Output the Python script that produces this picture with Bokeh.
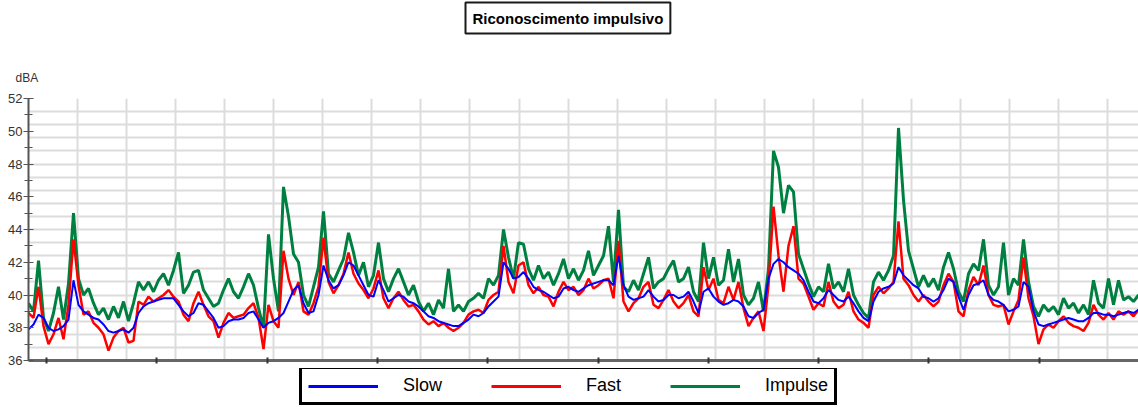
from bokeh.plotting import figure
from bokeh.layouts import column
from bokeh.models import (Range1d, FixedTicker, Title, Legend, LegendItem,
                          CustomJSTickFormatter)
from bokeh.embed import file_html
from bokeh.resources import INLINE

# ---- data (dBA), one sample per time step ----
impulse = [
    39.5, 39.0, 42.1, 38.6, 37.8, 38.9, 40.5, 38.5, 40.7, 45.0, 41.0, 40.0, 40.4, 39.5, 38.8,
    39.2, 38.5, 39.3, 38.6, 39.6, 38.4, 39.5, 40.8, 40.3, 40.8, 40.2, 40.9, 41.3, 40.6, 41.5,
    42.6, 40.1, 40.6, 41.4, 41.5, 40.3, 39.8, 39.3, 39.5, 40.3, 41.0, 40.2, 39.8, 40.5, 41.3,
    40.6, 39.2, 38.0, 43.7, 41.0, 39.0, 46.6, 44.8, 42.5, 42.0, 40.0, 39.3, 40.5, 41.7, 45.1,
    41.3, 40.8, 41.5, 42.2, 43.8, 42.6, 41.2, 42.0, 40.5, 41.2, 43.2, 41.0, 40.2, 41.0, 41.6,
    40.8, 40.0, 40.6, 39.6, 39.0, 39.5, 38.8, 39.7, 39.2, 41.6, 39.0, 39.4, 39.0, 39.6, 39.8,
    40.1, 39.8, 41.0, 40.6, 41.2, 44.0, 42.3, 41.0, 43.2, 43.1, 41.6, 40.9, 41.8, 41.0, 41.4,
    40.6, 41.3, 42.2, 41.0, 41.6, 40.9, 41.5, 42.7, 41.2, 41.8, 42.4, 44.2, 40.8, 45.2, 40.5,
    40.2, 40.9, 40.3, 41.3, 42.3, 40.4, 40.8, 41.0, 41.6, 42.1, 40.8, 41.0, 41.7, 40.2, 39.6,
    43.2, 41.0, 42.3, 40.6, 40.9, 42.8, 40.8, 42.2, 40.0, 39.4, 39.8, 40.8, 39.0, 41.6, 48.8,
    47.8, 45.0, 46.7, 46.3, 42.5, 41.6, 40.7, 39.9, 40.5, 40.2, 41.9, 40.4, 40.8, 40.2, 41.6,
    40.0, 39.4, 38.9, 38.6, 40.8, 41.4, 40.9, 41.5, 42.4, 50.2, 45.8, 42.7, 41.6, 40.5,
    41.2, 40.5, 41.0, 40.3, 41.7, 42.6, 41.6, 40.2, 39.6, 41.3, 41.9, 41.5, 43.4, 40.6, 40.0,
    40.5, 43.2, 40.0, 41.0, 40.6, 43.4, 40.8, 39.3, 38.7, 39.4, 39.0, 39.3, 38.8, 39.8, 39.2,
    39.5, 38.9, 39.4, 38.8, 40.9, 39.5, 39.2, 41.0, 39.4, 40.9, 39.7, 39.9, 39.6, 40.0,
]
fast = [
    38.9, 38.6, 40.5, 38.1, 37.0, 37.6, 38.6, 37.3, 39.4, 43.4, 40.6, 38.8, 39.0, 38.3, 38.0,
    37.6, 36.6, 37.4, 37.8, 38.0, 37.1, 37.2, 39.6, 39.4, 39.9, 39.6, 39.8, 40.0, 40.3, 39.9,
    39.6, 38.8, 38.4, 39.5, 40.2, 39.4, 38.7, 38.4, 37.4, 38.3, 38.9, 38.6, 38.7, 38.8, 39.2,
    39.5, 38.6, 36.7, 39.4, 38.4, 38.0, 42.7, 41.0, 40.0, 40.8, 39.0, 38.8, 39.5, 40.5, 43.5,
    40.8, 40.1, 40.6, 41.3, 42.6, 41.3, 40.7, 40.3, 39.8, 40.4, 41.5, 39.8, 39.2, 39.8, 40.2,
    39.7, 39.3, 39.4, 39.0, 38.5, 38.2, 38.4, 38.1, 38.3, 38.0, 37.8, 38.0, 38.3, 38.8, 39.0,
    39.1, 38.9, 39.7, 40.0, 40.2, 43.0, 40.8, 40.1, 41.8, 42.0, 40.6, 40.1, 40.5, 40.0, 39.9,
    39.3, 40.2, 40.8, 40.3, 40.5, 40.0, 40.3, 41.0, 40.4, 40.6, 40.9, 41.0, 39.8, 43.3, 39.6,
    39.0, 39.5, 39.8, 40.5, 40.8, 39.4, 39.2, 39.7, 40.3, 39.6, 39.2, 39.5, 40.0, 39.0, 38.7,
    41.7, 40.3, 41.0, 39.7, 39.5, 40.5, 39.7, 40.8, 39.2, 38.1, 38.6, 39.0, 37.8, 40.6, 45.4,
    42.4, 40.2, 43.0, 44.2, 41.0, 40.7, 39.9, 39.1, 39.5, 39.3, 40.8, 39.6, 39.2, 39.4, 40.2,
    39.0, 38.5, 38.3, 38.0, 40.0, 40.5, 40.1, 40.4, 40.8, 44.5, 41.0, 40.6, 40.0, 39.6,
    40.0, 39.6, 39.3, 39.6, 40.6, 41.3, 40.8, 39.0, 38.7, 40.3, 41.1, 40.6, 41.8, 40.0, 39.4,
    39.3, 39.4, 38.2, 39.0, 39.7, 42.3, 39.8, 38.7, 37.0, 37.9, 38.2, 38.0, 38.4, 38.7, 38.3,
    38.1, 38.0, 37.8, 38.3, 39.4, 38.8, 38.5, 38.9, 38.5, 39.0, 38.8, 39.0, 38.7, 39.1,
]
slow = [
    37.9, 38.2, 38.8, 38.6, 38.0, 37.8, 37.9, 38.1, 38.5, 40.9, 39.4, 39.0, 38.8, 38.6, 38.5,
    38.2, 37.8, 37.7, 37.8, 37.9, 37.7, 38.0, 38.9, 39.3, 39.5, 39.6, 39.7, 39.8, 39.8, 39.8,
    39.4, 39.0, 38.7, 38.9, 39.5, 39.4, 39.0, 38.6, 38.0, 38.1, 38.4, 38.5, 38.5, 38.6, 38.9,
    39.0, 38.5, 38.0, 38.3, 38.4, 38.6, 38.9, 39.6, 40.3, 40.6, 39.5, 38.9, 39.0, 40.0, 41.8,
    40.9, 40.4, 40.6, 41.2, 42.0, 41.8, 41.2, 40.6, 40.0, 39.9, 40.9, 40.3, 39.6, 39.8, 40.0,
    39.9, 39.6, 39.5, 39.3, 39.0, 38.7, 38.6, 38.4, 38.3, 38.2, 38.1, 38.1, 38.3, 38.5, 38.8,
    38.7, 38.9, 39.3, 39.6, 39.9, 42.0, 41.6, 41.0, 41.1, 41.4, 41.0, 40.5, 40.3, 40.2, 40.0,
    39.8, 39.9, 40.4, 40.5, 40.3, 40.2, 40.4, 40.6, 40.7, 40.8, 40.9, 40.9, 40.6, 42.4, 40.6,
    39.9, 39.7, 39.8, 39.9, 40.3, 39.9, 39.6, 39.7, 40.0, 40.0, 39.8, 39.9, 40.2, 39.6, 38.9,
    40.2, 40.4, 39.9, 39.6, 39.4, 39.5, 39.7, 39.6, 39.3, 38.7, 38.6, 38.9, 39.1, 41.0, 41.9,
    42.2, 42.0, 41.7, 41.5, 41.3, 40.9, 40.2, 39.6, 39.5, 39.8, 40.3, 40.0, 39.7, 39.6, 39.9,
    39.5, 39.0, 38.6, 38.4, 39.6, 40.2, 40.4, 40.5, 40.7, 41.7, 41.2, 40.9, 40.6, 40.4,
    39.9, 39.8, 39.6, 39.8, 40.3, 41.0, 40.8, 39.9, 39.1, 40.0, 40.6, 40.7, 40.9, 40.0, 39.7,
    39.6, 39.4, 39.0, 39.1, 39.3, 40.8, 40.5, 39.0, 38.2, 38.1, 38.2, 38.3, 38.4, 38.5, 38.6,
    38.5, 38.4, 38.4, 38.6, 38.9, 38.9, 38.8, 38.8, 38.7, 38.8, 38.9, 39.0, 38.9, 39.1,
]
samples = list(range(len(impulse)))          # sample index (time axis)

y_ticks = [36, 38, 40, 42, 44, 46, 48, 50, 52]
y_minor = [37, 39, 41, 43, 45, 47, 49, 51]
y_grid = [36 + 0.8 * k for k in range(21)]
x_grid_step = 9.81
x_tick_start, x_tick_step = 3.6, 22.06

title_text = "Riconoscimento impulsivo"
unit_text = "dBA"
series_names = ["Slow", "Fast", "Impulse"]
colors = {"Slow": "#0000ff", "Fast": "#ff0000", "Impulse": "#008040"}

FONT = "Liberation Sans"

# ---------------- main chart ----------------
p = figure(width=1138, height=368, output_backend="svg", toolbar_location=None,
           x_range=Range1d(0, len(impulse) - 1), y_range=Range1d(36, 52),
           min_border_left=28, min_border_right=0, min_border_top=98,
           min_border_bottom=8)
p.outline_line_color = None
p.background_fill_color = "white"
p.border_fill_color = "white"

p.xgrid.ticker = FixedTicker(ticks=[k * x_grid_step for k in range(24)])
p.ygrid.ticker = FixedTicker(ticks=y_grid)
for g in (p.xgrid, p.ygrid):
    g.grid_line_color = "#dcdcdc"
    g.grid_line_width = 2

p.yaxis.ticker = FixedTicker(ticks=y_ticks, minor_ticks=y_minor)
p.yaxis.axis_line_color = "#555555"
p.yaxis.axis_line_width = 2
p.yaxis.major_tick_line_color = "#555555"
p.yaxis.minor_tick_line_color = "#555555"
p.yaxis.major_tick_in = 5
p.yaxis.major_tick_out = 5
p.yaxis.minor_tick_in = 4
p.yaxis.minor_tick_out = 4
p.yaxis.major_label_standoff = 1
p.yaxis.major_label_text_font = FONT
p.yaxis.major_label_text_font_size = "13px"
p.yaxis.major_label_text_color = "#333333"

p.xaxis.ticker = FixedTicker(ticks=[x_tick_start + k * x_tick_step for k in range(10)],
                             minor_ticks=[])
p.xaxis.formatter = CustomJSTickFormatter(code="return ''")
p.xaxis.major_label_text_font_size = "0px"
p.xaxis.major_label_standoff = 0
p.xaxis.axis_line_color = "#666666"
p.xaxis.axis_line_width = 3
p.xaxis.major_tick_line_color = "#333333"
p.xaxis.major_tick_line_width = 2
p.xaxis.major_tick_in = 3
p.xaxis.major_tick_out = 3
p.xaxis.minor_tick_line_color = None

p.line(samples, impulse, line_color=colors["Impulse"], line_width=3)
p.line(samples, fast, line_color=colors["Fast"], line_width=2.5)
p.line(samples, slow, line_color=colors["Slow"], line_width=2)

unit = Title(text=unit_text, align="left", offset=-13, standoff=0,
             padding=dict(top=35, right=0, bottom=14, left=0),
             text_font=FONT, text_font_size="12px", text_font_style="normal",
             text_color="#333333")
p.add_layout(unit, "above")

title = Title(text=title_text, align="left", offset=437, standoff=0, text_font=FONT,
              text_font_size="15px", text_font_style="bold", text_color="black",
              border_line_color="#1a1a1a", border_line_width=2,
              background_fill_color="white", padding=7)
p.add_layout(title, "above")

# ---------------- legend strip ----------------
lg = figure(width=1138, height=39, output_backend="svg", toolbar_location=None,
            x_axis_type=None, y_axis_type=None,
            x_range=Range1d(0, len(impulse) - 1), y_range=Range1d(0, 1),
            min_border_left=0, min_border_right=0, min_border_top=0,
            min_border_bottom=0)
lg.outline_line_color = None
lg.grid.visible = False
lg.border_fill_color = "white"
lg.background_fill_color = "white"
# same series, outside this strip's visible range: only their legend keys show
k_slow = lg.line(samples, slow, line_color=colors["Slow"], line_width=3)
k_fast = lg.line(samples, fast, line_color=colors["Fast"], line_width=3)
k_imp = lg.line(samples, impulse, line_color=colors["Impulse"], line_width=3)

legend = Legend(items=[LegendItem(label=series_names[0], renderers=[k_slow]),
                       LegendItem(label=series_names[1], renderers=[k_fast]),
                       LegendItem(label=series_names[2], renderers=[k_imp])],
                orientation="horizontal", location=(271, 2),
                glyph_width=70, glyph_height=20, label_height=20,
                label_standoff=25, spacing=49, padding=6, margin=0,
                label_text_font=FONT, label_text_font_size="18px",
                label_text_color="black", label_text_baseline="middle",
                border_line_color="black", border_line_alpha=1,
                border_line_width=3,
                background_fill_color="white", background_fill_alpha=1)
lg.add_layout(legend)

open("out.html", "w").write(file_html(column(p, lg, spacing=0), INLINE))
